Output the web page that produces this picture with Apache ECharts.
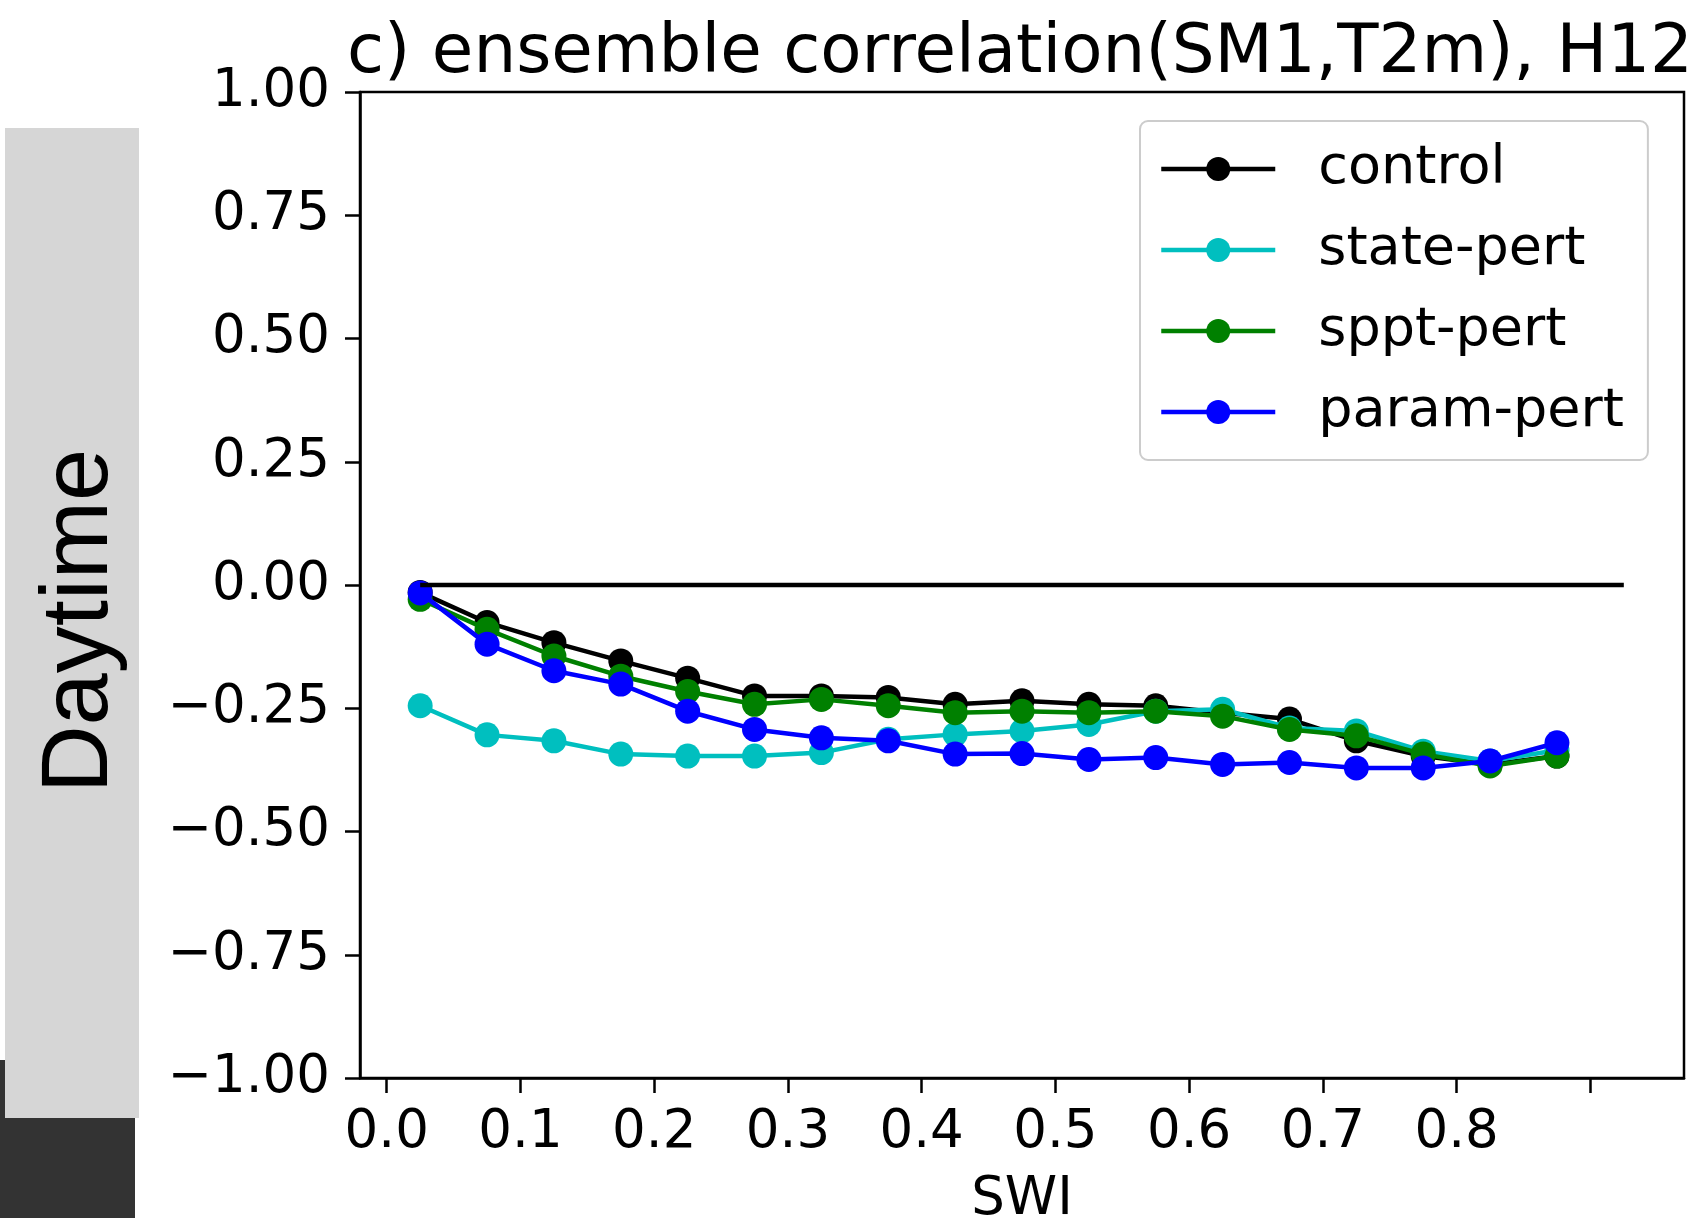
<!DOCTYPE html>
<html>
<head>
<meta charset="utf-8">
<script src="https://cdn.jsdelivr.net/npm/echarts@6.0.0/dist/echarts.min.js"></script>
<style>
html,body{margin:0;padding:0;background:#fff;}
#chart{width:1692px;height:1218px;}
</style>
</head>
<body>
<div id="chart"></div>
<script>
// ---- data ----
const swi = [0.025, 0.075, 0.125, 0.175, 0.225, 0.275, 0.325, 0.375, 0.425, 0.475, 0.525, 0.575, 0.625, 0.675, 0.725, 0.775, 0.825, 0.875];
const control   = [-0.015, -0.076, -0.117, -0.154, -0.189, -0.225, -0.225, -0.228, -0.242, -0.235, -0.242, -0.245, -0.259, -0.272, -0.316, -0.347, -0.364, -0.347];
const statePert = [-0.245, -0.304, -0.316, -0.343, -0.347, -0.347, -0.340, -0.313, -0.303, -0.296, -0.283, -0.256, -0.252, -0.290, -0.296, -0.337, -0.357, -0.335];
const spptPert  = [-0.029, -0.090, -0.144, -0.185, -0.216, -0.242, -0.232, -0.245, -0.259, -0.256, -0.259, -0.256, -0.266, -0.293, -0.306, -0.343, -0.367, -0.347];
const paramPert = [-0.016, -0.120, -0.174, -0.201, -0.256, -0.293, -0.310, -0.316, -0.343, -0.342, -0.354, -0.350, -0.364, -0.360, -0.371, -0.371, -0.357, -0.320];
const zeroLineX = [0.025, 0.925];
const zeroLineY = [0, 0];
const seriesNames = ['control', 'state-pert', 'sppt-pert', 'param-pert'];
const xTickValues = [0.0, 0.1, 0.2, 0.3, 0.4, 0.5, 0.6, 0.7, 0.8, 0.9];
const xLabelValues = [0.0, 0.1, 0.2, 0.3, 0.4, 0.5, 0.6, 0.7, 0.8];
const titleText = 'c) ensemble correlation(SM1,T2m), H12';
const xAxisName = 'SWI';
const sideLabel = 'Daytime';

const FONT = 'DejaVu Sans';
const colors = ['#000000', '#00bfbf', '#008000', '#0000ff'];
const seriesData = [control, statePert, spptPert, paramPert];

function pairs(xs, ys) { return xs.map((x, i) => [x, ys[i]]); }

const chart = echarts.init(document.getElementById('chart'), null, {renderer: 'canvas'});

const series = seriesData.map((d, i) => ({
  name: seriesNames[i],
  type: 'line',
  data: pairs(swi, d),
  symbol: 'circle',
  symbolSize: 25,
  showSymbol: true,
  lineStyle: {color: colors[i], width: 4.5},
  itemStyle: {color: colors[i]},
  z: 3 + i
}));
series.push({
  name: 'zero',
  type: 'line',
  data: pairs(zeroLineX, zeroLineY),
  symbol: 'none',
  lineStyle: {color: '#000', width: 4.5},
  z: 10
});

chart.setOption({
  animation: false,
  backgroundColor: '#ffffff',
  title: {
    text: titleText,
    left: 1015,
    textAlign: 'center',
    top: 15,
    textStyle: {fontFamily: FONT, fontSize: 67.5, fontWeight: 'normal', color: '#000'}
  },
  legend: {
    data: seriesNames,
    orient: 'vertical',
    left: 1140,
    top: 121,
    padding: [21, 24, 21, 19],
    backgroundColor: 'rgba(255,255,255,0.8)',
    borderColor: '#cccccc',
    borderWidth: 2,
    borderRadius: 8,
    itemWidth: 114,
    itemHeight: 30,
    itemGap: 27,
    lineStyle: {width: 4.5},
    textStyle: {fontFamily: FONT, fontSize: 54, color: '#000', padding: [0, 0, 0, 38]}
  },
  grid: {
    left: 360, top: 92, width: 1324, height: 986,
    outerBoundsMode: 'none',
    containLabel: false,
    show: true, borderColor: '#000', borderWidth: 2.5, backgroundColor: 'transparent'
  },
  xAxis: {
    type: 'value',
    min: -0.02,
    max: 0.97,
    name: xAxisName,
    nameLocation: 'middle',
    nameGap: 96,
    nameTextStyle: {fontFamily: FONT, fontSize: 53, color: '#000'},
    axisLine: {show: true, onZero: false, lineStyle: {color: '#000', width: 2.5}},
    axisTick: {show: true, length: 15, inside: false, customValues: xTickValues, lineStyle: {color: '#000', width: 2.5}},
    axisLabel: {
      customValues: xLabelValues,
      margin: 29,
      fontFamily: FONT, fontSize: 53, color: '#000',
      formatter: v => Number(v).toFixed(1)
    },
    splitLine: {show: false}
  },
  yAxis: {
    type: 'value',
    min: -1,
    max: 1,
    interval: 0.25,
    axisLine: {show: true, onZero: false, lineStyle: {color: '#000', width: 2.5}},
    axisTick: {show: true, length: 15, inside: false, lineStyle: {color: '#000', width: 2.5}},
    axisLabel: {
      margin: 30,
      fontFamily: FONT, fontSize: 53, color: '#000',
      formatter: v => (v < 0 ? '\u2212' : '') + Math.abs(v).toFixed(2)
    },
    splitLine: {show: false}
  },
  graphic: [
    {type: 'rect', shape: {x: 0, y: 1060, width: 135, height: 158}, style: {fill: '#333333'}, z: 1},
    {type: 'rect', shape: {x: 5, y: 128, width: 134, height: 990}, style: {fill: '#d6d6d6'}, z: 2},
    {
      type: 'text', x: 81, y: 621, rotation: Math.PI / 2, z: 3,
      style: {text: sideLabel, fontFamily: 'Liberation Sans', fontSize: 94, fill: '#000', align: 'center', verticalAlign: 'middle'}
    }
  ],
  series: series
});
</script>
</body>
</html>
